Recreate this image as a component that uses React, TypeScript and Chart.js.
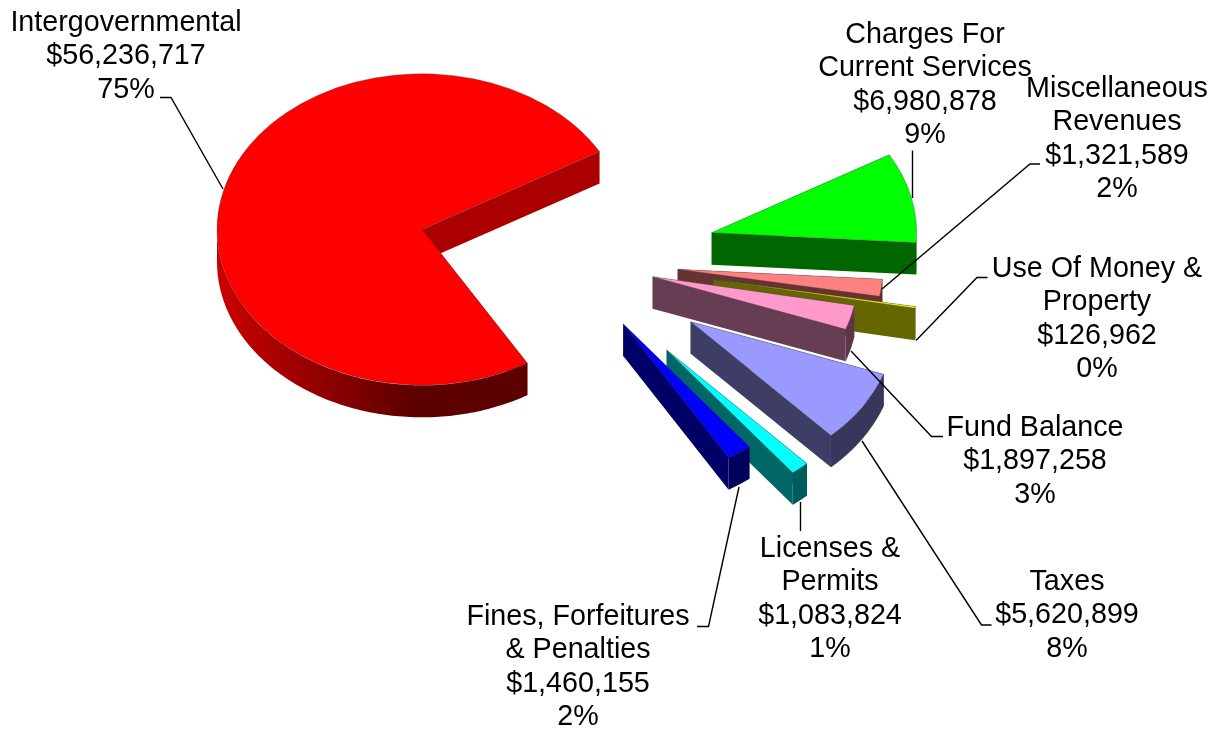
import React, { useEffect, useRef } from "react";
import { Chart, registerables } from "chart.js";

Chart.register(...registerables);

const categories = [
  "Charges For Current Services",
  "Miscellaneous Revenues",
  "Use Of Money & Property",
  "Fund Balance",
  "Taxes",
  "Licenses & Permits",
  "Fines, Forfeitures & Penalties",
  "Intergovernmental",
];
const revenues = [6980878, 1321589, 126962, 1897258, 5620899, 1083824, 1460155, 56236717];
const sliceColors = ["#00ff00", "#ff8080", "#ffff00", "#ff99cc", "#9999ff", "#00ffff", "#0000ff", "#ff0000"];
const labelLines = [
  ["Charges For", "Current Services"],
  ["Miscellaneous", "Revenues"],
  ["Use Of Money &", "Property"],
  ["Fund Balance"],
  ["Taxes"],
  ["Licenses &", "Permits"],
  ["Fines, Forfeitures", "& Penalties"],
  ["Intergovernmental"],
];

// Layout of the tilted, exploded pie
const W = 1216;
const H = 732;
const PIE_X = 422;
const PIE_Y = 229.5;
const RADIUS = 205;
const TILT = 0.76;
const DEPTH = 32;
const ROTATION = 60;
const explodeX = [289.7, 255.7, 291.5, 230.7, 268.7, 244.7, 201.3, 0];
const explodeY = [3.2, 39.8, 50, 47.2, 92.2, 120.5, 94.5, 0];
const drawOrder = [7, 0, 1, 2, 3, 5, 6, 4];
const labelX = [925, 1117, 1097, 1035, 1067, 830, 578, 126];
const labelY = [35, 89, 269, 428, 582, 549, 617, 23];
const LINE_H = 33.4;
const leaders: number[][][] = [
  [[912.5, 150.5], [912.5, 198]],
  [[1040, 164], [1030, 164], [882, 289]],
  [[987.5, 277.5], [977, 277.5], [916, 340.5]],
  [[943, 436.5], [931.5, 436.5], [851, 351]],
  [[991.5, 625], [981.5, 625], [862, 441]],
  [[800.5, 502], [800.5, 531]],
  [[697, 626.5], [708.5, 626.5], [739, 487]],
  [[160, 97.5], [171, 97.5], [223, 189]],
];

function shade(hex: string, f: number) {
  const n = parseInt(hex.slice(1), 16);
  const r = Math.round(((n >> 16) & 255) * f);
  const g = Math.round(((n >> 8) & 255) * f);
  const b = Math.round((n & 255) * f);
  return `rgb(${r},${g},${b})`;
}

function poly(ctx: CanvasRenderingContext2D, pts: number[][], fill: string | CanvasGradient) {
  ctx.beginPath();
  pts.forEach((p, i) => (i ? ctx.lineTo(p[0], p[1]) : ctx.moveTo(p[0], p[1])));
  ctx.closePath();
  ctx.fillStyle = fill;
  ctx.fill();
}

const piePlugin = {
  id: "tiltedPie",
  beforeDatasetsDraw(chart: any) {
    const ctx: CanvasRenderingContext2D = chart.ctx;
    const meta = chart.getDatasetMeta(0);
    drawOrder.forEach((i) => {
      const arc = meta.data[i];
      const { x, y, startAngle, endAngle, outerRadius } = arc.getProps(["x", "y", "startAngle", "endAngle", "outerRadius"]);
      const ox = x + explodeX[i];
      const oy = y + explodeY[i];
      const base = sliceColors[i];
      const pt = (a: number, d: number) => [ox + outerRadius * Math.cos(a), oy + outerRadius * TILT * Math.sin(a) + d];

      // flat walls along both cut edges; an edge facing right is lit, one facing the viewer is dark
      [startAngle, endAngle].forEach((a: number) => {
        poly(ctx, [[ox, oy], pt(a, 0), pt(a, DEPTH), [ox, oy + DEPTH]], shade(base, Math.sin(a) < 0 ? 0.667 : 0.4));
      });

      // rounded wall, only where it faces the viewer
      const from = Math.max(startAngle, 0);
      const to = Math.min(endAngle, Math.PI);
      if (to > from) {
        const top: number[][] = [];
        const bottom: number[][] = [];
        const n = 120;
        for (let k = 0; k <= n; k++) {
          const a = from + ((to - from) * k) / n;
          top.push(pt(a, 0));
          bottom.unshift(pt(a, DEPTH));
        }
        const grad = ctx.createLinearGradient(ox - outerRadius, 0, ox + outerRadius, 0);
        grad.addColorStop(0, shade(base, 0.8));
        grad.addColorStop(0.48, shade(base, 0.36));
        grad.addColorStop(1, shade(base, 0.36));
        poly(ctx, [...top, ...bottom], grad);
      }

      // top face, drawn by the library's own arc element
      ctx.save();
      ctx.translate(ox, oy);
      ctx.scale(1, TILT);
      ctx.translate(-x, -y);
      arc.draw(ctx);
      ctx.restore();
    });

    // leader lines
    ctx.save();
    ctx.strokeStyle = "#000";
    ctx.lineWidth = 1.4;
    leaders.forEach((line) => {
      ctx.beginPath();
      line.forEach((p, i) => (i ? ctx.lineTo(p[0], p[1]) : ctx.moveTo(p[0], p[1])));
      ctx.stroke();
    });
    ctx.restore();

    // labels
    const total = revenues.reduce((a, b) => a + b, 0);
    ctx.save();
    ctx.fillStyle = "#000";
    ctx.font = '28.7px "Liberation Sans"';
    ctx.textAlign = "center";
    ctx.textBaseline = "middle";
    categories.forEach((_, i) => {
      const lines = [
        ...labelLines[i],
        "$" + revenues[i].toLocaleString("en-US"),
        Math.round((revenues[i] / total) * 100) + "%",
      ];
      lines.forEach((t, j) => ctx.fillText(t, labelX[i], labelY[i] + j * LINE_H));
    });
    ctx.restore();
    return false;
  },
};

export default function App() {
  const ref = useRef<HTMLCanvasElement>(null);
  useEffect(() => {
    document.body.style.margin = "0";
    document.body.style.background = "#fff";
    const chart = new Chart(ref.current!, {
      type: "pie",
      data: {
        labels: categories,
        datasets: [
          {
            data: revenues,
            backgroundColor: sliceColors,
            borderColor: "rgba(70,70,70,0.4)",
            borderWidth: 1,
            radius: RADIUS,
          },
        ],
      },
      options: {
        responsive: false,
        animation: false,
        rotation: ROTATION,
        layout: { padding: { left: 0, top: 0, right: W - 2 * PIE_X, bottom: H - 2 * PIE_Y } },
        plugins: { legend: { display: false }, tooltip: { enabled: false }, title: { display: false } },
      },
      plugins: [piePlugin],
    });
    return () => chart.destroy();
  }, []);
  return <canvas ref={ref} width={W} height={H} style={{ display: "block", width: W, height: H }} />;
}
